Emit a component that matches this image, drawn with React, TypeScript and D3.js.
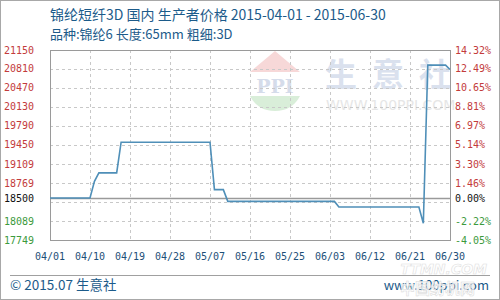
import React from "react";
import * as d3 from "d3";

const dates = [
  "2015-04-01", "2015-04-10", "2015-04-11", "2015-04-12", "2015-04-16", "2015-04-17",
  "2015-05-07", "2015-05-08", "2015-05-10", "2015-05-11", "2015-06-04", "2015-06-05",
  "2015-06-23", "2015-06-24", "2015-06-25", "2015-06-29", "2015-06-30",
];
const prices = [
  18500, 18500, 18800, 18950, 18950, 19500,
  19500, 18650, 18650, 18440, 18440, 18340,
  18340, 18050, 20880, 20880, 20800,
];
const yTicks = [21150, 20810, 20470, 20130, 19790, 19450, 19109, 18769, 18429, 18089, 17749];
const leftLabels = ["21150", "20810", "20470", "20130", "19790", "19450", "19109", "18769", "18500", "18089", "17749"];
const rightLabels = ["14.32%", "12.49%", "10.65%", "8.81%", "6.97%", "5.14%", "3.30%", "1.46%", "0.00%", "-2.22%", "-4.05%"];
const xTickLabels = ["04/01", "04/10", "04/19", "04/28", "05/07", "05/16", "05/25", "06/03", "06/12", "06/21", "06/30"];
const basePrice = 18500;
const title = "锦纶短纤3D 国内 生产者价格 2015-04-01 - 2015-06-30";
const subtitle = "品种:锦纶6 长度:65mm 粗细:3D";
const watermarkChars = ["生", "意", "社"];

const W = 500, H = 300;
const L = 50, R = 450, T = 50, B = 240;
const MONO = "'DejaVu Sans Mono', monospace";
const CJK = "'Noto Sans CJK SC', 'Noto Sans', sans-serif";

export default function App() {
  const parse = d3.utcParse("%Y-%m-%d");
  const x = d3.scaleUtc().domain([parse("2015-04-01")!, parse("2015-06-30")!]).range([L, R]);
  const y = d3.scaleLinear().domain([17749, 21150]).range([B, T]);
  const pts = dates.map((d, i) => [x(parse(d)!), y(prices[i])] as [number, number]);
  const line = d3.line()(pts) || "";
  const xTickPos = xTickLabels.map((l) => {
    const [m, dd] = l.split("/");
    return x(parse(`2015-${m}-${dd}`)!);
  });
  const labelY = (i: number) => (leftLabels[i] === String(basePrice) ? y(basePrice) : y(yTicks[i]));
  const color = (i: number) => {
    const v = i === 8 ? basePrice : yTicks[i];
    return v > basePrice ? "#c33b3b" : v < basePrice ? "#3c9a3c" : "#111";
  };
  return (
    <svg width={W} height={H} style={{ position: "absolute", left: 0, top: 0, background: "#fff" }}>
      <rect x={0.5} y={0.5} width={W - 1} height={H - 1} fill="#fff" stroke="#a8a8a8" />
      {/* watermark */}
      <g>
        <polygon points="275,51 250,72 300,72" fill="#f7d8d8" />
        <text x={275} y={93} textAnchor="middle" fontFamily="'DejaVu Serif', serif" fontWeight="bold" fontSize={19} fill="#d5dcea">PPI</text>
        <path d="M250,96 L300,96 Q292,111 275,111 Q258,111 250,96 Z" fill="#d9eed9" />
        {watermarkChars.map((c, i) => (
          <text key={c} x={325 + i * 47} y={86} fontFamily={CJK} fontWeight="bold" fontSize={32} fill="#dae1ee">{c}</text>
        ))}
        <text x={326} y={110} fontFamily="'DejaVu Sans', sans-serif" fontSize={14} fill="#e6e6e6">WWW.100PPI.COM</text>
      </g>
      {/* grid */}
      {yTicks.map((v, i) => (
        <line key={"h" + i} x1={L} x2={R} y1={Math.round(y(v)) + 0.5} y2={Math.round(y(v)) + 0.5} stroke="#c8c8c8" strokeDasharray="3,3" />
      ))}
      {xTickPos.slice(1, -1).map((px, i) => (
        <line key={"v" + i} x1={Math.round(px) + 0.5} x2={Math.round(px) + 0.5} y1={T} y2={B} stroke="#c8c8c8" strokeDasharray="3,3" />
      ))}
      <rect x={L + 0.5} y={T + 0.5} width={R - L} height={B - T} fill="none" stroke="#9a9a9a" />
      <line x1={L} x2={R} y1={Math.round(y(basePrice)) + 0.5} y2={Math.round(y(basePrice)) + 0.5} stroke="#9a9a9a" strokeWidth={1.5} />
      <path d={line} fill="none" stroke="#4f8fb8" strokeWidth={1.6} />
      {/* axes labels */}
      {leftLabels.map((l, i) => (
        <text key={"l" + i} x={4} y={labelY(i) + 3.5} fontFamily={MONO} fontSize={10} fill={color(i)}>{l}</text>
      ))}
      {rightLabels.map((l, i) => (
        <text key={"r" + i} x={455} y={labelY(i) + 3.5} fontFamily={MONO} fontSize={10} fill={color(i)}>{l}</text>
      ))}
      {xTickLabels.map((l, i) => (
        <text key={"x" + i} x={xTickPos[i]} y={260} textAnchor="middle" fontFamily={MONO} fontSize={10} fill="#1d4f78">{l}</text>
      ))}
      {/* titles */}
      <text x={50} y={20} fontFamily={CJK} fontSize={14} fill="#1c5b8a">{title}</text>
      <text x={50} y={39} fontFamily={CJK} fontSize={13} fill="#1c5b8a">{subtitle}</text>
      {/* footer */}
      <line x1={10} x2={490} y1={275.5} y2={275.5} stroke="#a0a0a0" />
      <text x={10} y={290} fontFamily={CJK} fontSize={13.5} fill="#1c5b8a">© 2015.07 生意社</text>
      <text x={489} y={290} textAnchor="end" fontFamily={CJK} fontSize={13} fill="#1c5b8a">www.100ppi.com</text>
      <text x={487} y={274} textAnchor="end" fontFamily="'DejaVu Sans', sans-serif" fontStyle="italic" fontWeight="bold" fontSize={14} fill="#ffffff" stroke="#e0e0e0" strokeWidth={0.6}>TTMN.COM</text>
      <text x={475} y={294} textAnchor="end" fontFamily={CJK} fontWeight="bold" fontSize={15} fill="#ffffff" fillOpacity={0.75} stroke="#d8d8d8" strokeWidth={0.5}>中国纺机网</text>
    </svg>
  );
}
